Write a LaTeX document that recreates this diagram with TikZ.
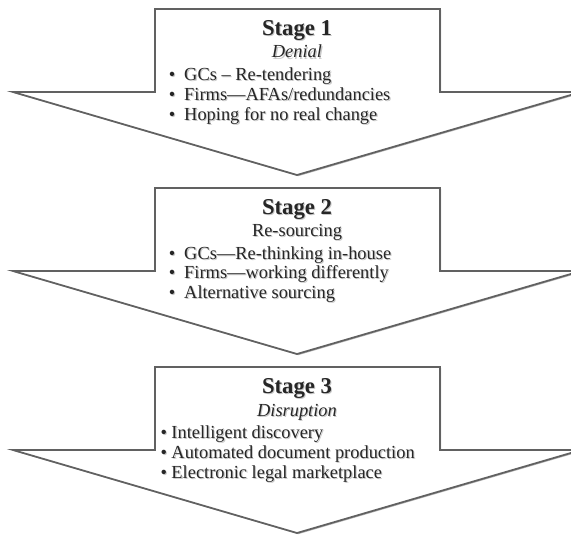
\documentclass[tikz,border=0pt]{standalone}
\usepackage{fontspec}
\setmainfont{Liberation Serif}
\usetikzlibrary{shadows}
\newcommand\shtxt[1]{\makebox[0pt][l]{\hspace{0.8pt}\raisebox{-0.8pt}{\textcolor{black!22}{#1}}}#1}
\newcommand\bul[1]{\shtxt{\makebox[11.6pt][l]{•}#1}}
\newcommand\bulc[1]{\shtxt{\makebox[8.2pt][l]{•}#1}}
\tikzset{
  stagearrow/.style={draw=black!62, line width=1.3pt, fill=white, line join=miter,
    drop shadow={shadow xshift=0.9pt, shadow yshift=-0.9pt, opacity=0.3, fill=black}},
  stagetitle/.style={anchor=base, inner sep=0pt, text=black!85,
    font=\fontsize{17}{20}\selectfont\bfseries},
  stagesub/.style={anchor=base, inner sep=0pt, text=black!85,
    font=\fontsize{13.8}{16}\selectfont},
  stageitem/.style={anchor=base west, inner sep=0pt, text=black!85,
    font=\fontsize{13.8}{16}\selectfont},
}
\begin{document}
\begin{tikzpicture}[x=0.75pt, y=-0.75pt]
\useasboundingbox (0,0) rectangle (571,535);
\clip (0,0) rectangle (571,535);
\fill[white] (0,0) rectangle (571,535);
% arrows
\foreach \dy in {0,179,358}{
  \path[stagearrow] (155,9+\dy) -- (440,9+\dy) -- (440,92+\dy) -- (581,92+\dy)
    -- (297,175+\dy) -- (13,92+\dy) -- (155,92+\dy) -- cycle;
}
% stage 1
\node[stagetitle] (t1) at (297,35.7) {\shtxt{Stage 1}};
\node[stagesub] (s1) at (297,58) {\shtxt{\itshape Denial}};
\node[stageitem] (a1) at (168.5,80.7) {\bul{GCs – Re-tendering}};
\node[stageitem] (b1) at (168.5,100.4) {\bul{Firms—AFAs/redundancies}};
\node[stageitem] (c1) at (168.5,120.1) {\bul{Hoping for no real change}};
% stage 2
\node[stagetitle] (t2) at (297,214.2) {\shtxt{Stage 2}};
\node[stagesub] (s2) at (297,236.5) {\shtxt{Re-sourcing}};
\node[stageitem] (a2) at (168.5,259.2) {\bul{GCs—Re-thinking in-house}};
\node[stageitem] (b2) at (168.5,278.9) {\bul{Firms—working differently}};
\node[stageitem] (c2) at (168.5,298.6) {\bul{Alternative sourcing}};
% stage 3
\node[stagetitle] (t3) at (297,393.7) {\shtxt{Stage 3}};
\node[stagesub] (s3) at (297,416) {\shtxt{\itshape Disruption}};
\node[stageitem] (a3) at (160.3,438.7) {\bulc{Intelligent discovery}};
\node[stageitem] (b3) at (160.3,458.4) {\bulc{Automated document production}};
\node[stageitem] (c3) at (160.3,478.1) {\bulc{Electronic legal marketplace}};
\end{tikzpicture}
\end{document}
